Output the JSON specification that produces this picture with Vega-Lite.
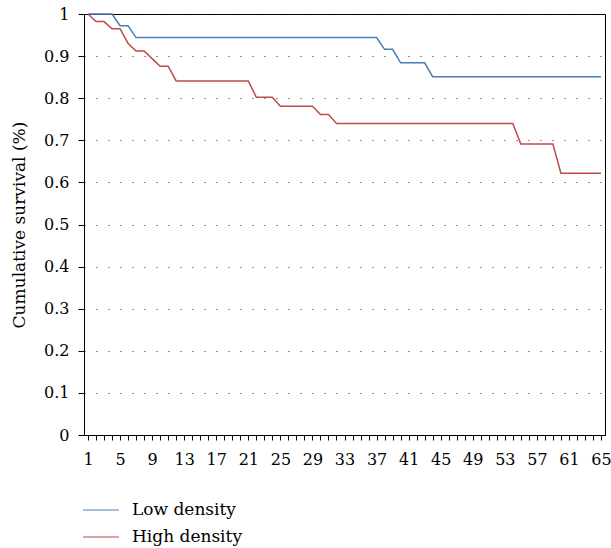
{
  "$schema": "https://vega.github.io/schema/vega-lite/v6.json",
  "width": 521,
  "height": 421,
  "autosize": {"type": "none"},
  "padding": {"left": 84, "top": 14, "right": 6, "bottom": 113},
  "config": {
    "font": "DejaVu Serif",
    "view": {"stroke": "#000", "strokeWidth": 1},
    "axis": {
      "domainColor": "#000",
      "tickColor": "#000",
      "labelColor": "#000",
      "titleColor": "#000",
      "labelFont": "DejaVu Serif",
      "titleFont": "DejaVu Serif"
    },
    "legend": {"labelFont": "DejaVu Serif"}
  },
  "data": {
    "values": [
      {"day": 1, "group": "Low density", "survival": 1},
      {"day": 2, "group": "Low density", "survival": 1},
      {"day": 3, "group": "Low density", "survival": 1},
      {"day": 4, "group": "Low density", "survival": 1},
      {"day": 5, "group": "Low density", "survival": 0.972},
      {"day": 6, "group": "Low density", "survival": 0.972},
      {"day": 7, "group": "Low density", "survival": 0.944},
      {"day": 8, "group": "Low density", "survival": 0.944},
      {"day": 9, "group": "Low density", "survival": 0.944},
      {"day": 10, "group": "Low density", "survival": 0.944},
      {"day": 11, "group": "Low density", "survival": 0.944},
      {"day": 12, "group": "Low density", "survival": 0.944},
      {"day": 13, "group": "Low density", "survival": 0.944},
      {"day": 14, "group": "Low density", "survival": 0.944},
      {"day": 15, "group": "Low density", "survival": 0.944},
      {"day": 16, "group": "Low density", "survival": 0.944},
      {"day": 17, "group": "Low density", "survival": 0.944},
      {"day": 18, "group": "Low density", "survival": 0.944},
      {"day": 19, "group": "Low density", "survival": 0.944},
      {"day": 20, "group": "Low density", "survival": 0.944},
      {"day": 21, "group": "Low density", "survival": 0.944},
      {"day": 22, "group": "Low density", "survival": 0.944},
      {"day": 23, "group": "Low density", "survival": 0.944},
      {"day": 24, "group": "Low density", "survival": 0.944},
      {"day": 25, "group": "Low density", "survival": 0.944},
      {"day": 26, "group": "Low density", "survival": 0.944},
      {"day": 27, "group": "Low density", "survival": 0.944},
      {"day": 28, "group": "Low density", "survival": 0.944},
      {"day": 29, "group": "Low density", "survival": 0.944},
      {"day": 30, "group": "Low density", "survival": 0.944},
      {"day": 31, "group": "Low density", "survival": 0.944},
      {"day": 32, "group": "Low density", "survival": 0.944},
      {"day": 33, "group": "Low density", "survival": 0.944},
      {"day": 34, "group": "Low density", "survival": 0.944},
      {"day": 35, "group": "Low density", "survival": 0.944},
      {"day": 36, "group": "Low density", "survival": 0.944},
      {"day": 37, "group": "Low density", "survival": 0.944},
      {"day": 38, "group": "Low density", "survival": 0.916},
      {"day": 39, "group": "Low density", "survival": 0.916},
      {"day": 40, "group": "Low density", "survival": 0.884},
      {"day": 41, "group": "Low density", "survival": 0.884},
      {"day": 42, "group": "Low density", "survival": 0.884},
      {"day": 43, "group": "Low density", "survival": 0.884},
      {"day": 44, "group": "Low density", "survival": 0.851},
      {"day": 45, "group": "Low density", "survival": 0.851},
      {"day": 46, "group": "Low density", "survival": 0.851},
      {"day": 47, "group": "Low density", "survival": 0.851},
      {"day": 48, "group": "Low density", "survival": 0.851},
      {"day": 49, "group": "Low density", "survival": 0.851},
      {"day": 50, "group": "Low density", "survival": 0.851},
      {"day": 51, "group": "Low density", "survival": 0.851},
      {"day": 52, "group": "Low density", "survival": 0.851},
      {"day": 53, "group": "Low density", "survival": 0.851},
      {"day": 54, "group": "Low density", "survival": 0.851},
      {"day": 55, "group": "Low density", "survival": 0.851},
      {"day": 56, "group": "Low density", "survival": 0.851},
      {"day": 57, "group": "Low density", "survival": 0.851},
      {"day": 58, "group": "Low density", "survival": 0.851},
      {"day": 59, "group": "Low density", "survival": 0.851},
      {"day": 60, "group": "Low density", "survival": 0.851},
      {"day": 61, "group": "Low density", "survival": 0.851},
      {"day": 62, "group": "Low density", "survival": 0.851},
      {"day": 63, "group": "Low density", "survival": 0.851},
      {"day": 64, "group": "Low density", "survival": 0.851},
      {"day": 65, "group": "Low density", "survival": 0.851},
      {"day": 1, "group": "High density", "survival": 1},
      {"day": 2, "group": "High density", "survival": 0.982},
      {"day": 3, "group": "High density", "survival": 0.982},
      {"day": 4, "group": "High density", "survival": 0.965},
      {"day": 5, "group": "High density", "survival": 0.965},
      {"day": 6, "group": "High density", "survival": 0.930},
      {"day": 7, "group": "High density", "survival": 0.912},
      {"day": 8, "group": "High density", "survival": 0.912},
      {"day": 9, "group": "High density", "survival": 0.894},
      {"day": 10, "group": "High density", "survival": 0.876},
      {"day": 11, "group": "High density", "survival": 0.876},
      {"day": 12, "group": "High density", "survival": 0.841},
      {"day": 13, "group": "High density", "survival": 0.841},
      {"day": 14, "group": "High density", "survival": 0.841},
      {"day": 15, "group": "High density", "survival": 0.841},
      {"day": 16, "group": "High density", "survival": 0.841},
      {"day": 17, "group": "High density", "survival": 0.841},
      {"day": 18, "group": "High density", "survival": 0.841},
      {"day": 19, "group": "High density", "survival": 0.841},
      {"day": 20, "group": "High density", "survival": 0.841},
      {"day": 21, "group": "High density", "survival": 0.841},
      {"day": 22, "group": "High density", "survival": 0.802},
      {"day": 23, "group": "High density", "survival": 0.802},
      {"day": 24, "group": "High density", "survival": 0.802},
      {"day": 25, "group": "High density", "survival": 0.781},
      {"day": 26, "group": "High density", "survival": 0.781},
      {"day": 27, "group": "High density", "survival": 0.781},
      {"day": 28, "group": "High density", "survival": 0.781},
      {"day": 29, "group": "High density", "survival": 0.781},
      {"day": 30, "group": "High density", "survival": 0.761},
      {"day": 31, "group": "High density", "survival": 0.761},
      {"day": 32, "group": "High density", "survival": 0.740},
      {"day": 33, "group": "High density", "survival": 0.740},
      {"day": 34, "group": "High density", "survival": 0.740},
      {"day": 35, "group": "High density", "survival": 0.740},
      {"day": 36, "group": "High density", "survival": 0.740},
      {"day": 37, "group": "High density", "survival": 0.740},
      {"day": 38, "group": "High density", "survival": 0.740},
      {"day": 39, "group": "High density", "survival": 0.740},
      {"day": 40, "group": "High density", "survival": 0.740},
      {"day": 41, "group": "High density", "survival": 0.740},
      {"day": 42, "group": "High density", "survival": 0.740},
      {"day": 43, "group": "High density", "survival": 0.740},
      {"day": 44, "group": "High density", "survival": 0.740},
      {"day": 45, "group": "High density", "survival": 0.740},
      {"day": 46, "group": "High density", "survival": 0.740},
      {"day": 47, "group": "High density", "survival": 0.740},
      {"day": 48, "group": "High density", "survival": 0.740},
      {"day": 49, "group": "High density", "survival": 0.740},
      {"day": 50, "group": "High density", "survival": 0.740},
      {"day": 51, "group": "High density", "survival": 0.740},
      {"day": 52, "group": "High density", "survival": 0.740},
      {"day": 53, "group": "High density", "survival": 0.740},
      {"day": 54, "group": "High density", "survival": 0.740},
      {"day": 55, "group": "High density", "survival": 0.691},
      {"day": 56, "group": "High density", "survival": 0.691},
      {"day": 57, "group": "High density", "survival": 0.691},
      {"day": 58, "group": "High density", "survival": 0.691},
      {"day": 59, "group": "High density", "survival": 0.691},
      {"day": 60, "group": "High density", "survival": 0.622},
      {"day": 61, "group": "High density", "survival": 0.622},
      {"day": 62, "group": "High density", "survival": 0.622},
      {"day": 63, "group": "High density", "survival": 0.622},
      {"day": 64, "group": "High density", "survival": 0.622},
      {"day": 65, "group": "High density", "survival": 0.622}
    ]
  },
  "mark": {"type": "line", "strokeWidth": 1.5, "clip": false},
  "encoding": {
    "x": {
      "field": "day",
      "type": "quantitative",
      "scale": {"domain": [0.5, 65.5], "nice": false, "zero": false},
      "axis": {
        "title": null,
        "values": [1, 2, 3, 4, 5, 6, 7, 8, 9, 10, 11, 12, 13, 14, 15, 16, 17, 18, 19, 20, 21, 22, 23, 24, 25, 26, 27, 28, 29, 30, 31, 32, 33, 34, 35, 36, 37, 38, 39, 40, 41, 42, 43, 44, 45, 46, 47, 48, 49, 50, 51, 52, 53, 54, 55, 56, 57, 58, 59, 60, 61, 62, 63, 64, 65],
        "labelExpr": "(datum.value - 1) % 4 == 0 ? datum.label : ''",
        "grid": false,
        "tickSize": 5,
        "labelFontSize": 16,
        "labelPadding": 11,
        "labelOverlap": false,
        "labelFlush": false
      }
    },
    "y": {
      "field": "survival",
      "type": "quantitative",
      "scale": {"domain": [0, 1], "nice": false},
      "axis": {
        "title": "Cumulative survival (%)",
        "titleFontSize": 17,
        "titleFontWeight": "normal",
        "titlePadding": 15,
        "values": [0, 0.1, 0.2, 0.3, 0.4, 0.5, 0.6, 0.7, 0.8, 0.9, 1],
        "format": ".1~f",
        "tickSize": 6,
        "labelFontSize": 16,
        "labelPadding": 9,
        "grid": true,
        "gridColor": "#222",
        "gridDash": [1, 11],
        "gridWidth": 1.2
      }
    },
    "color": {
      "field": "group",
      "type": "nominal",
      "scale": {"domain": ["Low density", "High density"], "range": ["#4a7ebb", "#be4b48"]},
      "legend": {
        "title": null,
        "orient": "none",
        "legendX": -2,
        "legendY": 477,
        "symbolType": "stroke",
        "symbolSize": 1296,
        "symbolStrokeWidth": 1.2,
        "labelFontSize": 17,
        "labelOffset": 12,
        "rowPadding": 0,
        "labelColor": "#000"
      }
    }
  }
}
